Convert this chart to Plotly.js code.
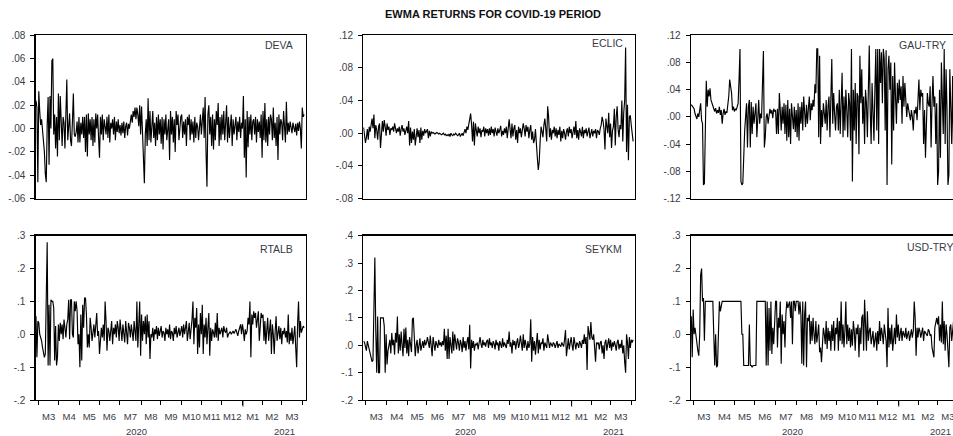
<!DOCTYPE html>
<html><head><meta charset="utf-8">
<script src="https://cdn.plot.ly/plotly-3.0.1.min.js"></script>
<style>html,body{margin:0;padding:0;overflow:hidden;background:#fff}#chart{width:965px;height:436px}</style>
</head><body><div id="chart"></div>
<script>
// daily (5-day week) observations, 2020-02-26 .. 2021-04-02, one row per month
const startDate = [2020, 1, 26];
const endDate = [2021, 3, 2];
const seriesNames = ['DEVA', 'ECLIC', 'GAU-TRY', 'RTALB', 'SEYKM', 'USD-TRY'];

const deva = [
 .024,.018,-.046,
 .032,.015,.003,.008,-.002,-.006,-.02,-.039,-.046,.003,.027,-.031,.028,.0,.058,.06,-.005,.012,-.017,.01,-.024,.03,
 -.01,.028,.003,-.015,.01,.005,-.017,.012,.042,-.01,.005,.013,-.01,-.015,.006,.03,-.005,-.007,-.003,.006,-.012,.01,
 -.012,.005,-.005,.01,-.008,.01,-.02,.012,-.024,.013,-.005,.008,-.01,.01,-.015,.008,-.012,.013,.0,.012,-.008,
 -.025,.01,-.005,.012,-.01,.008,.0,-.005,.01,-.008,.012,-.012,.005,.0,.008,-.005,.01,-.01,.006,-.003,.008,-.004,
 .003,-.006,.005,-.004,.006,-.008,.002,.005,-.006,.004,.0,.008,.012,.005,.015,.01,.018,.008,.018,.012,.002,.02,-.005,
 .019,-.003,-.02,-.047,-.005,.008,-.015,.026,-.01,.015,-.012,.008,.015,-.008,.005,-.015,.01,-.01,.012,-.005,.008,
 -.013,.01,-.018,.008,-.005,.012,-.01,.0,.008,-.027,.015,-.005,.01,-.012,.008,-.02,.015,.003,.012,-.01,.005,.01,
 .012,-.008,.006,-.005,.008,-.015,.01,.003,.012,-.01,.008,-.005,.006,-.012,.01,-.008,.005,.002,-.01,.008,.012,-.005,
 .01,.018,-.008,.027,-.02,-.05,.012,.02,-.005,.01,-.015,.012,-.018,.008,-.01,.015,.003,.022,-.015,.01,-.01,
 .012,-.005,.015,-.01,.008,.02,-.012,.01,-.008,.005,.012,-.015,.008,-.005,.003,.01,-.01,.006,-.003,.01,-.008,.005,.0,
 .028,-.025,.008,-.042,.015,-.016,.01,-.005,.012,-.01,.006,.008,-.005,.01,-.012,.008,-.003,.006,-.008,.012,-.025,
 .015,-.01,.022,-.012,.008,-.015,.01,-.005,.012,.008,-.01,.018,-.008,.005,-.015,.01,-.027,.012,-.005,.008,
 .005,-.01,.015,.003,-.012,.023,-.005,.005,-.003,.006,.002,-.004,.005,.0,-.003,.004,-.006,.005,-.002,.006,.0,-.017,.018,
 .01,.012
];
const eclic = [
 .007,-.004,-.012,
 -.005,.005,-.008,.008,.002,.012,.018,.006,.023,-.006,.01,.004,-.008,.008,.012,-.018,.006,.015,.002,.016,.008,-.003,
 .012,.004,.008,-.002,.006,.004,.008,.002,.012,.005,.0,.006,.002,.008,-.003,.005,.01,.002,.006,-.002,.004,.008,
 .0,.015,-.015,.007,-.012,.002,-.008,.005,-.015,.0,.006,-.005,.004,-.012,.007,-.008,.003,-.003,.005,.0,.004,
 .005,-.006,.003,-.004,.002,.0,.001,.0,-.001,.0,.001,.0,-.001,.0,-.001,-.002,-.001,.0,-.002,-.001,-.003,-.002,
 -.003,-.001,-.004,.0,-.002,-.003,-.001,-.002,.0,-.001,-.003,-.002,.0,-.004,-.002,.0,-.003,.002,.005,.0,.008,.004,.012,
 .02,.024,.01,-.01,.014,-.015,.012,.003,-.004,.008,.0,.006,-.005,.004,.002,.008,-.004,.006,.0,.005,-.003,
 .006,-.002,.008,.0,.005,-.004,.007,.003,-.003,.006,.0,.004,.009,-.004,.003,-.002,.006,.0,.008,-.006,.004,.017,
 .005,-.006,.012,-.004,.006,.01,-.008,.004,-.012,.008,.0,.006,-.005,.003,.012,.006,-.004,.01,.002,.008,-.006,.004,
 .01,-.008,.002,-.012,-.008,.005,-.02,-.03,-.045,-.035,-.01,.008,.002,-.005,.01,.018,.005,-.01,.033,.02,-.005,
 .006,-.008,.004,.0,.008,-.004,.006,-.006,.004,-.002,.008,-.01,.003,-.006,.005,.0,-.008,.002,.006,-.004,.008,.0,.005,
 -.006,.004,.008,-.002,.015,-.006,.004,-.008,.006,.002,-.004,.008,-.006,.004,.0,.006,-.004,.002,.007,-.006,.003,
 .005,-.004,.003,.0,.005,-.006,.004,.002,-.002,.006,.01,.02,.015,.005,-.02,.018,.01,.0,.025,-.005,
 .012,-.018,.003,.008,.03,-.015,.02,.033,.005,-.005,.01,.005,.04,-.01,.025,.04,.105,-.023,.035,-.033,.02,.022,.01,
 -.005,-.01
];
const gauTry = [
 .018,.016,.015,
 .012,.005,.0,-.003,.005,.0,.01,.02,-.005,-.01,-.1,-.098,-.02,.053,.015,.04,.03,.042,.025,.02,.015,.012,
 .008,.013,.005,.01,.006,.015,.003,.01,-.01,.005,.012,.003,.008,.006,.015,.03,.055,.045,.035,.01,.015,.008,
 .012,.01,.015,.02,.055,.1,-.095,-.1,-.098,-.05,-.02,.0,.02,-.045,.015,.025,-.045,.022,-.025,.015,-.01,
 .005,.02,-.03,.01,.025,-.01,.005,-.002,.05,.097,-.045,-.03,.0,.005,-.01,.008,.012,.005,.01,-.002,.012,.008,
 .01,-.025,.012,-.025,.035,.01,-.02,.015,-.01,.02,-.025,.018,-.035,.025,-.03,.012,-.04,.02,.0,-.018,.015,-.022,.01,
 -.03,.02,-.035,.015,-.01,.022,-.02,.03,.005,-.015,.018,-.01,.012,.03,-.005,.02,.01,.025,.015,.048,.035,
 .1,.1,-.03,.09,-.04,.01,-.015,.02,.0,-.01,.025,-.02,.015,.03,-.03,.02,.085,-.01,.035,.005,-.02,.015,
 .02,-.02,.04,-.025,.01,.065,-.03,.03,-.02,.04,.01,-.03,.035,.02,-.035,.1,-.095,.04,-.02,.05,-.04,.035,
 .03,-.055,.09,.02,.07,-.01,.03,-.04,.04,.02,-.03,.06,.105,.01,-.04,.05,.01,-.035,.04,.1,-.02,
 .1,-.04,.1,.05,.095,.02,.1,.085,-.02,.098,-.1,.07,.09,.04,.08,-.07,.06,-.02,.08,.03,-.01,.05,.02,
 .055,.025,.045,-.01,.06,.015,.05,.03,.0,.02,.01,.005,-.005,.01,.0,-.02,.01,.005,.015,-.005,.02,
 .055,.01,.04,.03,.035,-.04,.01,-.06,.0,.035,.02,.015,.045,-.045,.02,.06,.015,.03,-.04,.02,
 -.1,-.08,.04,-.06,.08,.02,-.025,.1,-.04,.07,.01,-.1,-.085,.07,.02,-.04,.06,-.05,.03,-.02,.04,.01,-.03,
 .02,-.01
];
const rtalb = [
 .055,-.07,.04,
 .035,.0,-.01,-.02,-.04,-.065,-.07,-.06,.14,.28,-.095,.09,-.095,.105,.1,.1,.08,-.08,.025,-.095,-.07,.03,
 -.02,.035,.0,.03,-.015,.045,.02,-.01,.03,.045,.105,-.015,.105,.105,.0,-.01,.1,.07,.1,.07,-.03,.0,
 -.1,.06,-.08,.09,.02,.11,.11,.06,-.04,.0,-.04,.05,.02,-.02,.005,.03,-.01,.02,.065,-.005,.01,
 -.06,.0,.02,-.01,.03,-.02,.1,.04,-.05,.02,.01,-.02,.015,.04,-.03,.02,.0,.03,-.01,.04,.02,-.02,
 .045,.01,-.02,.03,.0,-.025,.04,.01,-.03,.035,.02,-.01,.03,.005,-.02,.04,.01,-.02,.1,-.04,.03,.1,-.065,
 .06,-.02,.04,.0,.055,-.03,.06,-.01,.04,-.075,.0,-.01,.02,-.02,.015,.0,.025,-.015,.02,-.005,.01,
 .025,-.01,.01,.005,-.02,.02,.0,.015,-.01,.03,-.015,.01,.005,-.02,.02,.0,.025,-.01,.015,.02,-.005,.01,
 .025,-.01,.03,.0,.02,.04,-.02,.015,.035,-.015,.01,.045,.1,-.03,.05,.02,.08,-.06,.03,-.04,.065,.0,
 .09,-.06,.03,-.01,.05,-.03,.02,.065,-.065,.02,-.02,.015,.005,-.01,.035,-.01,.065,-.02,.02,.0,.01,
 .02,-.01,.025,.01,.005,.02,-.01,.0,.005,.008,.0,.005,.01,.002,.008,.015,.005,-.005,.01,.025,.03,.0,.03,
 .01,-.02,.015,.0,.01,.05,.03,.1,-.07,.06,.03,.07,.05,.065,.02,.04,.07,-.02,.03,.065,.05,
 .06,-.02,.04,-.03,.02,.05,-.02,.01,.045,-.06,.03,.0,-.06,.01,.055,-.02,.01,.025,-.015,.02,
 -.03,.01,.0,.02,-.01,.01,-.025,.06,-.03,.005,-.02,.02,-.03,.0,.025,-.04,-.1,.03,.1,-.01,.04,.005,.02,
 .025,.02
];
const seykm = [
 .015,.01,-.005,
 -.02,.015,.0,-.01,-.025,-.04,-.06,-.055,.16,.32,.05,-.1,.105,-.1,-.1,.1,.1,.1,.1,.07,-.1,.04,
 -.07,-.02,.0,.02,-.03,.045,.0,.02,-.035,.045,.01,.105,-.03,.04,-.02,.05,.0,-.04,.06,-.01,.065,-.03,
 .02,-.04,.03,.0,-.025,.095,.1,.03,-.04,.0,.02,-.03,.01,.025,-.02,.005,.015,-.01,.02,.0,.01,
 .03,.01,-.01,.035,.0,-.04,.03,.01,-.02,.015,.005,-.01,.02,.0,.01,-.005,.015,.0,.06,-.02,.035,-.05,
 .06,-.05,.03,.0,-.03,.05,-.02,.04,.0,-.015,.025,.01,-.02,.02,.005,-.025,.03,-.01,.015,-.02,.01,.03,-.015,
 .075,-.085,.02,-.01,.015,-.02,.005,.0,.01,-.015,.02,.03,.005,-.01,.02,.0,.01,-.005,.015,.02,-.01,
 .025,.0,.01,-.01,.015,.005,-.015,.02,.0,.01,-.02,.015,.005,-.01,.025,-.005,.01,.0,-.01,.02,.005,.05,
 -.005,.01,-.03,.02,.0,.015,-.015,.01,.025,-.01,.005,.035,.0,-.02,.04,-.01,.02,.0,-.02,.015,-.01,.005,
 .095,-.06,.03,-.02,.015,-.035,.01,.045,-.03,.02,-.015,.01,.005,.025,-.02,.01,.0,-.01,.04,.0,-.01,
 .01,.0,-.005,.01,.005,-.01,.0,.015,-.01,.005,.0,-.005,.01,.0,-.005,.02,.055,-.04,.0,.025,-.015,.005,.03,
 .0,-.02,.03,.0,-.015,.01,.005,-.01,.015,.005,-.01,.02,.005,.04,.005,.03,-.09,.07,.035,.02,.085,
 .03,.02,.04,-.01,-.06,.01,.005,.01,-.015,.01,.015,-.03,.0,-.05,.01,.02,-.02,.005,.025,-.01,
 .02,-.02,.01,-.005,.015,.0,-.02,.01,.02,-.015,.005,-.01,.02,-.03,.0,-.06,-.1,.04,.01,-.05,.03,-.01,.02,
 .01,.02
];
const usdTry = [
 .055,-.07,.075,
 .0,.02,-.01,-.03,-.05,-.065,.0,.18,.2,.1,.11,-.02,.1,.1,.1,.1,.1,.1,.1,.1,.1,.0,
 -.095,.0,-.1,-.095,.0,.1,.07,.09,.1,.1,.1,.1,.1,.1,.1,.1,.1,.1,.1,.1,.1,.1,
 .1,.1,.1,.1,.1,.1,.1,.0,.0,-.095,-.095,-.095,-.095,-.095,-.095,.03,-.095,-.095,-.1,-.095,-.095,
 -.095,-.095,.1,.1,.1,.1,.1,.1,.1,.1,.1,.1,-.095,.1,-.095,.08,-.05,.1,-.06,.02,-.03,.05,
 .1,.1,-.04,.05,.02,.1,-.09,.06,.0,.04,-.04,.06,.1,.08,.09,.1,.05,.1,-.03,.1,.1,.07,.1,
 .1,.1,.06,.1,.06,-.09,.1,-.095,.06,.1,-.1,.05,.04,.06,-.03,.04,-.02,.05,.0,-.03,.04,
 -.025,.0,.03,-.055,-.04,-.085,-.02,.02,.0,-.03,.04,-.045,.02,-.02,.01,-.05,.03,-.02,.04,-.05,.02,.0,
 .05,-.05,.04,-.02,.1,-.03,.03,-.04,.01,.1,-.03,.03,-.02,.02,-.04,.015,-.035,.04,.01,-.05,.02,.0,
 .03,-.07,.02,-.03,.05,.06,-.05,.105,.03,-.05,.07,-.02,.01,.02,-.03,.0,.01,-.04,-.02,.005,-.05,
 .01,-.03,.04,-.02,.02,.0,-.03,.03,.01,-.02,-.1,.08,-.04,.02,-.03,.03,-.05,.0,.02,-.03,.06,-.01,.03,
 -.02,.0,.02,-.02,.01,.0,-.01,.02,-.015,.0,.01,-.02,.005,.015,-.01,.01,.1,.05,-.065,.02,-.01,
 .02,.01,-.01,.005,.02,-.02,.01,.005,.0,-.005,.015,.01,-.005,.0,-.04,-.06,-.07,.02,.04,.05,
 .03,.055,-.02,.03,-.025,.1,-.03,.04,-.05,.03,.0,-.04,-.1,.02,.03,-.02,.01,.04,-.03,.02,.0,-.01,.02,
 .01,.0
];
const seriesData = [deva, eclic, gauTry, rtalb, seykm, usdTry];

const yTickVals = [
 [-.06,-.04,-.02,0,.02,.04,.06,.08],
 [-.08,-.04,0,.04,.08,.12],
 [-.12,-.08,-.04,0,.04,.08,.12],
 [-.2,-.1,0,.1,.2,.3],
 [-.2,-.1,0,.1,.2,.3,.4],
 [-.2,-.1,0,.1,.2,.3]
];
const yTickText = [
 ['-.06','-.04','-.02','.00','.02','.04','.06','.08'],
 ['-.08','-.04','.00','.04','.08','.12'],
 ['-.12','-.08','-.04','.00','.04','.08','.12'],
 ['-.2','-.1','.0','.1','.2','.3'],
 ['-.2','-.1','.0','.1','.2','.3','.4'],
 ['-.2','-.1','.0','.1','.2','.3']
];
const yearLabels = ['2020', '2021'];
const titleText = 'EWMA RETURNS FOR COVID-19 PERIOD';

// ---- trading-day calendar (Mon-Fri) ----
const dates = [];
{
  let d = new Date(Date.UTC(startDate[0], startDate[1], startDate[2]));
  const e = new Date(Date.UTC(endDate[0], endDate[1], endDate[2]));
  while (d <= e) { const w = d.getUTCDay(); if (w !== 0 && w !== 6) dates.push(new Date(d)); d = new Date(d.getTime() + 86400000); }
}
const xIdx = dates.map((_, i) => i);
const bounds = [], bMonth = [];
let yearBound = null;
for (let i = 1; i < dates.length; i++) {
  if (dates[i].getUTCMonth() !== dates[i-1].getUTCMonth()) { bounds.push(i - 0.5); bMonth.push(dates[i].getUTCMonth() + 1); }
  if (dates[i].getUTCFullYear() !== dates[i-1].getUTCFullYear()) yearBound = i - 0.5;
}
const monthMid = [], monthTxt = [];
for (let j = 0; j < bounds.length - 1; j++) { monthMid.push((bounds[j] + bounds[j+1]) / 2); monthTxt.push('M' + bMonth[j]); }

// ---- layout geometry (pixels) ----
const W = 965, H = 436;
const px = v => v / W, py = v => 1 - v / H;
const cols = [[35.7, 306], [363.3, 635], [691, 962]];
const rows = [[35.3, 198.5], [235.7, 400]];
const xRange = [-0.3, 289];
const labelPos = [[295, 45.5, 'right'], [625, 43.5, 'right'], [948, 44.5, 'right'], [295, 248.5, 'right'], [624, 248.5, 'right'], [905, 247.5, 'left']];
const yearX = [108, 266];
const font = 'Liberation Sans, Arial, sans-serif';
const txtCol = '#3a3a46';

const traces = [], annotations = [], shapes = [];
const layout = {
  width: W, height: H, margin: {l: 0, r: 0, t: 0, b: 0},
  paper_bgcolor: '#fff', plot_bgcolor: '#fff', showlegend: false,
  font: {family: font, color: txtCol},
  title: {text: '<b>' + titleText + '</b>', x: px(493), y: py(14), xanchor: 'center', yanchor: 'middle', xref: 'paper', yref: 'paper', font: {size: 11, color: '#111', family: font}}
};
for (let k = 0; k < 6; k++) {
  const r = Math.floor(k / 3), c = k % 3;
  const xa = k === 0 ? 'xaxis' : 'xaxis' + (k + 1), ya = k === 0 ? 'yaxis' : 'yaxis' + (k + 1);
  const xr = k === 0 ? 'x' : 'x' + (k + 1), yr = k === 0 ? 'y' : 'y' + (k + 1);
  traces.push({x: xIdx, y: seriesData[k], xaxis: xr, yaxis: yr, type: 'scatter', mode: 'lines', line: {color: '#000', width: 1.15}, hoverinfo: 'skip'});
  const xax = {domain: [px(cols[c][0]), px(cols[c][1])], anchor: yr, range: xRange, showline: true, mirror: true, linecolor: '#000', linewidth: 1.3, showgrid: false, zeroline: false, fixedrange: true};
  if (r === 1) {
    Object.assign(xax, {tickmode: 'array', tickvals: monthMid, ticktext: monthTxt, ticks: '', tickangle: 0, ticklabelstandoff: 7,
      tickfont: {size: 9.5, color: txtCol, family: font},
      minor: {tickmode: 'array', tickvals: bounds, ticks: 'outside', ticklen: 3.5, tickcolor: '#000', tickwidth: 1, showgrid: false}});
    annotations.push({xref: xr, yref: 'paper', x: yearX[0], y: py(431.5), text: yearLabels[0], showarrow: false, xanchor: 'center', yanchor: 'middle', font: {size: 9.5, color: txtCol, family: font}});
    annotations.push({xref: xr, yref: 'paper', x: yearX[1], y: py(431.5), text: yearLabels[1], showarrow: false, xanchor: 'center', yanchor: 'middle', font: {size: 9.5, color: txtCol, family: font}});
    shapes.push({type: 'line', xref: xr, yref: 'paper', x0: yearBound, x1: yearBound, y0: py(400), y1: py(406.5), line: {color: '#000', width: 1}});
  } else {
    Object.assign(xax, {showticklabels: false, ticks: ''});
  }
  layout[xa] = xax;
  layout[ya] = {domain: [py(rows[r][1]), py(rows[r][0])], anchor: xr, range: [yTickVals[k][0], yTickVals[k][yTickVals[k].length - 1]],
    tickmode: 'array', tickvals: yTickVals[k], ticktext: yTickText[k], ticks: 'outside', ticklen: 4, tickcolor: '#000', ticklabelstandoff: 3,
    tickfont: {size: 10, color: txtCol, family: font}, showline: true, mirror: true, linecolor: '#000', linewidth: 1.3, showgrid: false, zeroline: false, fixedrange: true};
  annotations.push({xref: 'paper', yref: 'paper', x: px(labelPos[k][0]), y: py(labelPos[k][1]), xanchor: labelPos[k][2], yanchor: 'middle', text: seriesNames[k], showarrow: false, font: {size: 10.5, color: txtCol, family: font}});
}
layout.annotations = annotations;
layout.shapes = shapes;
Plotly.newPlot('chart', traces, layout, {displayModeBar: false, staticPlot: true});
</script>
</body></html>
